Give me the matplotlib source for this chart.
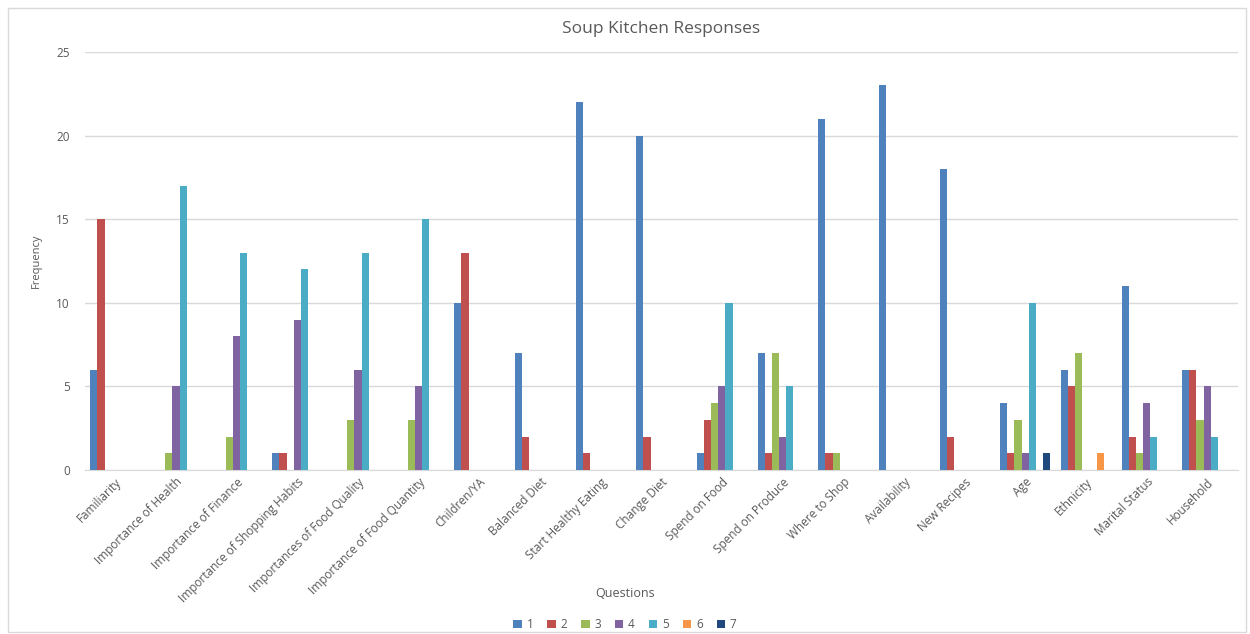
import numpy as np
import matplotlib
matplotlib.use('Agg')
import matplotlib.pyplot as plt
from matplotlib.patches import Rectangle

plt.rcParams['font.family'] = ['Open Sans', 'DejaVu Sans']

questions = ['Familiarity', 'Importance of Health', 'Importance of Finance',
             'Importance of Shopping Habits', 'Importances of Food Quality',
             'Importance of Food Quantity', 'Children/YA', 'Balanced Diet',
             'Start Healthy Eating', 'Change Diet', 'Spend on Food',
             'Spend on Produce', 'Where to Shop', 'Availability', 'New Recipes',
             'Age', 'Ethnicity', 'Marital Status', 'Household']

# responses per answer code, one list per series
r1 = [6, 0, 0, 1, 0, 0, 10, 7, 22, 20, 1, 7, 21, 23, 18, 4, 6, 11, 6]
r2 = [15, 0, 0, 1, 0, 0, 13, 2, 1, 2, 3, 1, 1, 0, 2, 1, 5, 2, 6]
r3 = [0, 1, 2, 0, 3, 3, 0, 0, 0, 0, 4, 7, 1, 0, 0, 3, 7, 1, 3]
r4 = [0, 5, 8, 9, 6, 5, 0, 0, 0, 0, 5, 2, 0, 0, 0, 1, 0, 4, 5]
r5 = [0, 17, 13, 12, 13, 15, 0, 0, 0, 0, 10, 5, 0, 0, 0, 10, 0, 2, 2]
r6 = [0, 0, 0, 0, 0, 0, 0, 0, 0, 0, 0, 0, 0, 0, 0, 0, 1, 0, 0]
r7 = [0, 0, 0, 0, 0, 0, 0, 0, 0, 0, 0, 0, 0, 0, 0, 1, 0, 0, 0]

series = [r1, r2, r3, r4, r5, r6, r7]
labels = ['1', '2', '3', '4', '5', '6', '7']
colors = ['#4F81BD', '#C0504D', '#9BBB59', '#8064A2', '#4BACC6', '#F79646', '#1F497D']

fig = plt.figure(figsize=(12.5, 6.34), dpi=100)
ax = fig.add_axes([0.068, 0.2587, 0.922, 0.6593])

x = np.arange(len(questions))
w = 1 / 8.5
for i, (vals, lab, c) in enumerate(zip(series, labels, colors)):
    ax.bar(x + (i - 3) * w, vals, width=w, color=c, label=lab, zorder=3)

ax.set_xlim(-0.5, len(questions) - 0.5)
ax.set_ylim(0, 25)
ax.set_yticks([0, 5, 10, 15, 20, 25])
ax.grid(axis='y', color='#D9D9D9', linewidth=1, zorder=0)
for s in ['top', 'right', 'left']:
    ax.spines[s].set_visible(False)
ax.spines['bottom'].set_color('#D9D9D9')
ax.tick_params(axis='both', length=0, colors='#595959', labelsize=8.5)
ax.tick_params(axis='y', pad=11)
ax.tick_params(axis='x', pad=4)
ax.set_xticks(x)
ax.set_xticklabels(questions, rotation=45, ha='right', rotation_mode='anchor')

ax.set_title('Soup Kitchen Responses', fontsize=12.5, color='#595959', pad=14)
ax.set_ylabel('Frequency', fontsize=8, color='#595959')
ax.yaxis.set_label_coords(-0.037, 0.5)
fig.text(0.5, 0.058, 'Questions', ha='center', fontsize=9, color='#595959')

ax.legend(loc='center', bbox_to_anchor=(0.5, 0.015), bbox_transform=fig.transFigure,
          ncol=7, frameon=False, fontsize=8.5, handlelength=0.7, handleheight=0.7,
          columnspacing=1.2, handletextpad=0.4, labelcolor='#595959')

fig.patches.append(Rectangle((0.0064, 0.003), 0.99, 0.984, transform=fig.transFigure,
                             fill=False, edgecolor='#D9D9D9', linewidth=1))

fig.savefig('out.png', dpi=100)
